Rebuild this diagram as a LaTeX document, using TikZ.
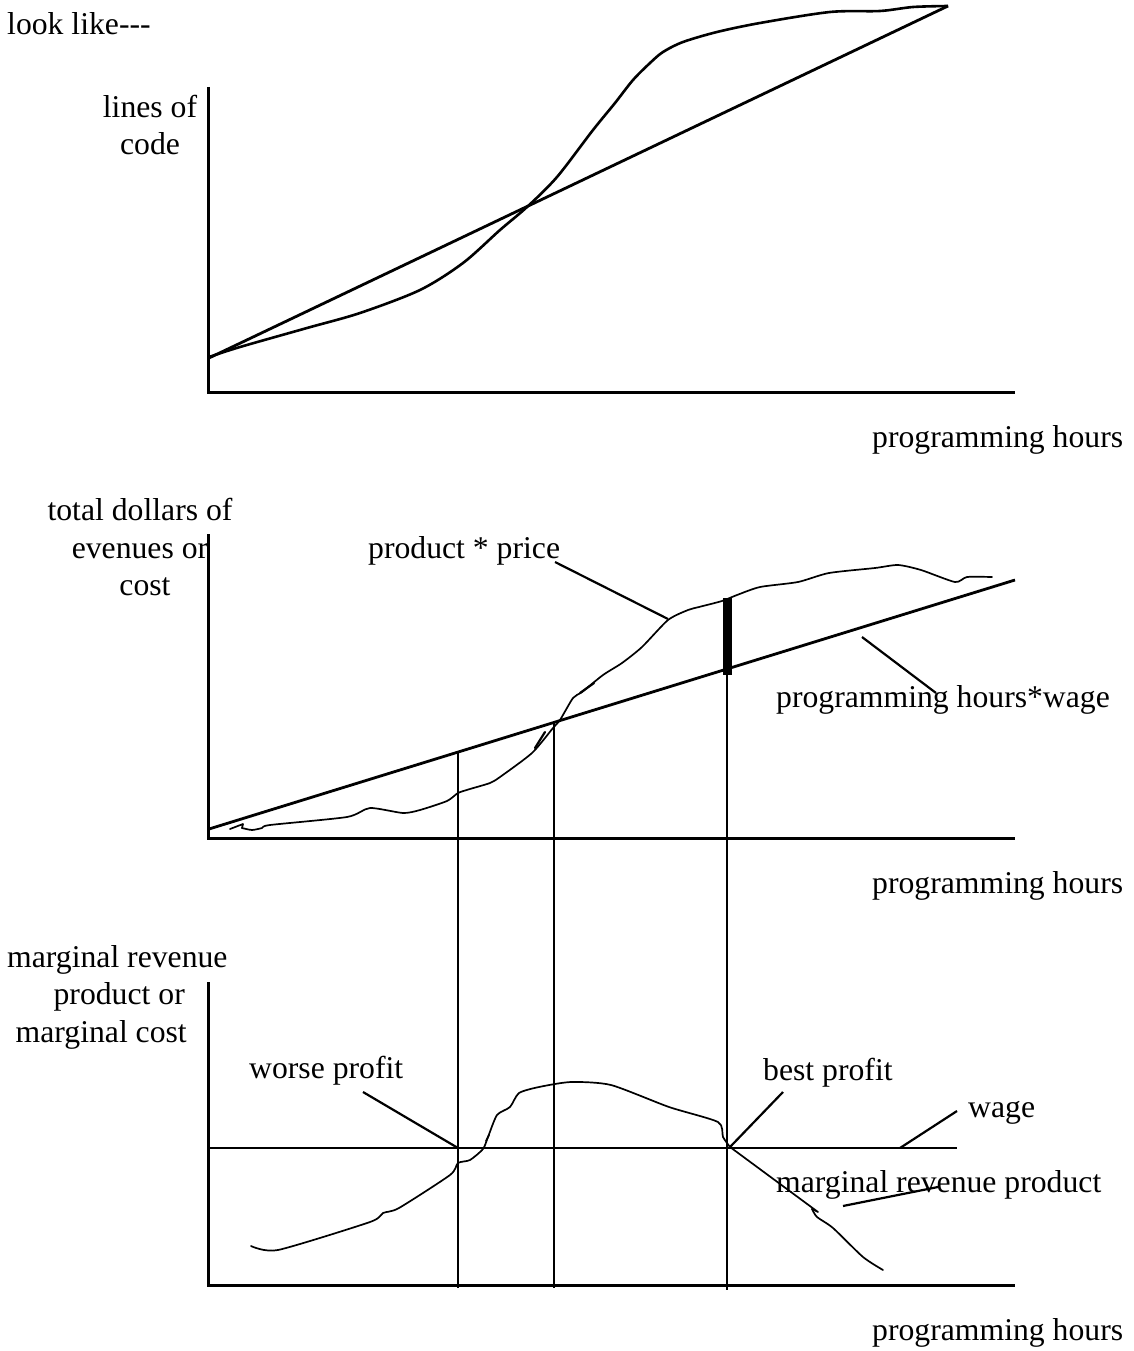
\documentclass[tikz,border=0pt]{standalone}
\usepackage{fontspec}
\setmainfont{Liberation Serif}
\begin{document}
\begin{tikzpicture}[
  x=1pt, y=-1pt,
  lbl/.style={font=\fontsize{31.7}{37}\selectfont, inner sep=0pt},
  axis/.style={line width=3pt},
  trend/.style={line width=2.8pt},
  curve/.style={line width=1.7pt, line join=round, line cap=round},
  guide/.style={line width=1.3pt},
  leader/.style={line width=2.2pt}
]
\fill[white] (0,0) rectangle (1133,1351);
\useasboundingbox (0,0) rectangle (1133,1351);

\node[lbl, anchor=base west] (intro) at (7,35) {look like-{}-{}-};

% panel 1: lines of code
\coordinate (top1) at (208,87);
\coordinate (orig1) at (208,392);
\coordinate (end1) at (1015,392);
\draw[axis] (top1) -- (orig1) -- (end1);
\node[lbl, anchor=base] (loc) at (150,118) {lines of};
\node[lbl, anchor=base] (loc2) at (150,155) {code};
\coordinate (lin1a) at (209,358);
\coordinate (lin1b) at (948,6);
\draw[trend] (lin1a) -- (lin1b);
\draw[line width=2.6pt, line join=round] plot[smooth, tension=0.5] coordinates {
  (209,357) (240,347) (307,328) (360,313) (420,290) (463,263) (500,230)
  (527,207) (557,177) (593,130) (615,103) (633,80) (650,63) (663,52)
  (683,42) (717,32) (760,23) (830,12) (880,11) (913,7) (948,6)};

% hour labels
\foreach \y/\n in {447/1, 893/2, 1340/3}
  \node[lbl, anchor=base west] (hours\n) at (872,\y) {programming hours};

% panel 2: dollars
\coordinate (top2) at (208,534);
\coordinate (orig2) at (208,838);
\coordinate (end2) at (1015,838);
\draw[axis] (top2) -- (orig2) -- (end2);
\node[lbl, anchor=base] (tot1) at (140,520) {total dollars of};
\node[lbl, anchor=base] (tot2) at (140,558) {evenues or};
\node[lbl, anchor=base] (tot3) at (145,595) {cost};
\coordinate (cost1) at (209,829);
\coordinate (cost2) at (1015,580);
\draw[trend] (cost1) -- (cost2);
\draw[curve] (230,829) -- (243,824) -- (242,828);
\draw[curve] plot[smooth, tension=0.4] coordinates {
  (242,828) (252,830) (262,828) (270,825) (347,817) (370,808) (403,813)
  (420,810) (447,801) (458,793) (470,789) (490,783) (500,777) (532,753)
  (553,728) (560,720) (573,698) (582,692) (603,675) (622,663) (642,647)
  (668,620) (688,610) (699,607) (722,601) (737,595) (760,587) (798,582)
  (829,573) (875,568) (898,565) (921,570) (955,582) (967,577) (992,577)};
\draw[curve, line width=2.2pt] (535,748) -- (545,732);
\draw[curve, line width=2.2pt] (580,693) -- (594,683);
\node[lbl, anchor=base west] (rev) at (368,558) {product * price};
\node[lbl, anchor=base west] (wagecost) at (776,707) {programming hours*wage};
\coordinate (revA) at (555,562);
\coordinate (revB) at (668,619);
\draw[leader] (revA) -- (revB);
\coordinate (costA) at (862,637);
\coordinate (costB) at (936,693);
\draw[leader] (costA) -- (costB);
% profit bar
\coordinate (barT) at (727,598);
\coordinate (barB) at (727,675);
\draw[line width=9pt] (barT) -- (barB);

% drop lines
\coordinate (dropA) at (458,751);
\coordinate (dropB) at (554,722);
\coordinate (dropAe) at (458,1288);
\coordinate (dropBe) at (554,1288);
\coordinate (dropCe) at (727,1290);
\draw[guide] (dropA) -- (dropAe);
\draw[guide] (dropB) -- (dropBe);
\draw[guide] (barB) -- (dropCe);

% panel 3: marginal
\coordinate (top3) at (208,982);
\coordinate (orig3) at (208,1285);
\coordinate (end3) at (1015,1285);
\draw[axis] (top3) -- (orig3) -- (end3);
\node[lbl, anchor=base west] (mr1) at (7,967) {marginal revenue};
\node[lbl, anchor=base east] (mr2) at (185,1004) {product or};
\node[lbl, anchor=base east] (mr3) at (187,1042) {marginal cost};
\coordinate (wageA) at (208,1148);
\coordinate (wageB) at (957,1148);
\draw[trend] (wageA) -- (wageB);
\draw[curve] plot[smooth, tension=0.4] coordinates {
  (251,1246) (278,1250) (370,1222) (383,1213) (399,1208) (450,1175)
  (458,1163) (470,1160) (483,1149) (488,1137) (497,1115) (510,1107)
  (519,1093) (539,1087) (571,1082) (611,1085) (669,1107) (718,1122)
  (723,1137) (730,1147)};
\draw[curve] (730,1147) -- (818,1212) -- (812,1209);
\draw[curve] plot[smooth, tension=0.4] coordinates {
  (812,1209) (817,1217) (833,1228) (863,1257) (883,1270)};
\draw[curve] (486,1141) -- (489,1135);
\node[lbl, anchor=base west] (worse) at (249,1078) {worse profit};
\node[lbl, anchor=base west] (best) at (763,1080) {best profit};
\node[lbl, anchor=base west] (wage) at (968,1117) {wage};
\node[lbl, anchor=base west] (mrp) at (776,1192) {marginal revenue product};
\coordinate (worseA) at (363,1092);
\coordinate (worseB) at (458,1148);
\draw[leader] (worseA) -- (worseB);
\coordinate (bestA) at (783,1092);
\coordinate (bestB) at (730,1147);
\draw[leader] (bestA) -- (bestB);
\coordinate (wageLa) at (957,1111);
\coordinate (wageLb) at (900,1148);
\draw[leader] (wageLa) -- (wageLb);
\coordinate (mrpA) at (843,1206);
\coordinate (mrpB) at (938,1187);
\draw[leader] (mrpA) -- (mrpB);
\end{tikzpicture}
\end{document}
